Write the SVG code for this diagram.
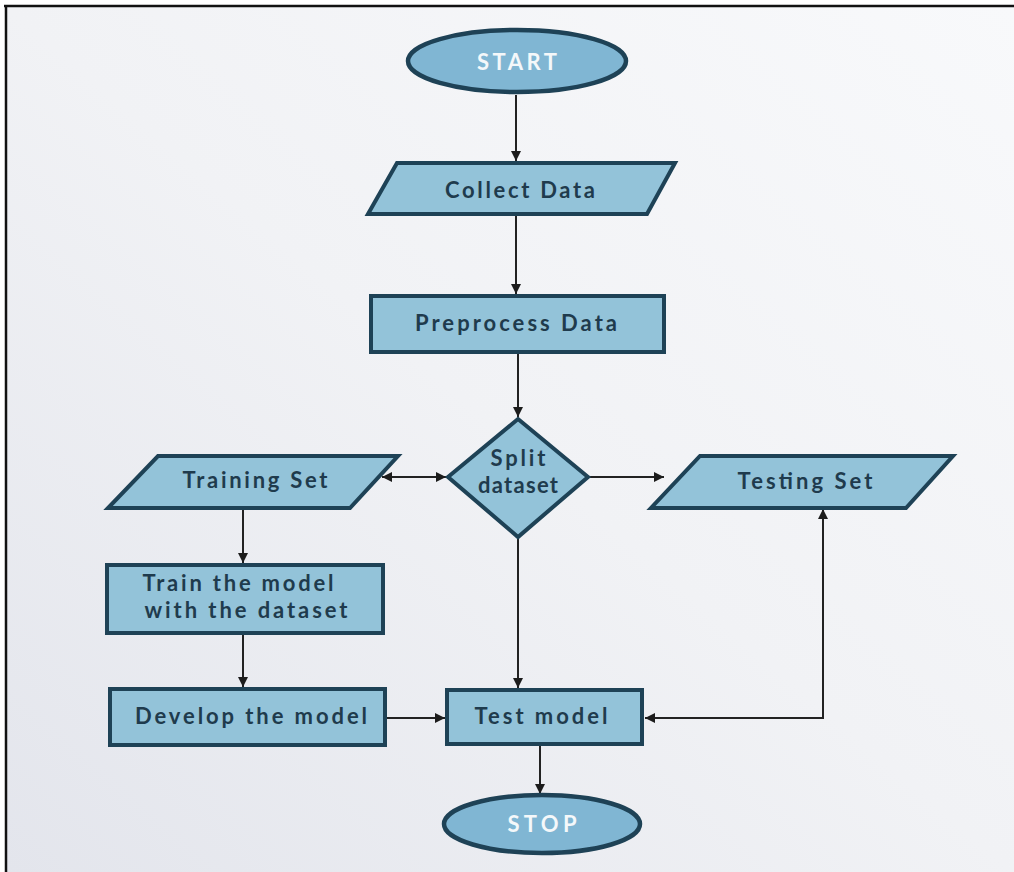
<svg xmlns="http://www.w3.org/2000/svg" width="1014" height="872" viewBox="0 0 1014 872">
  <defs>
    <linearGradient id="bg" x1="1" y1="0" x2="0" y2="1">
      <stop offset="0" stop-color="#f8f9fb"/>
      <stop offset="0.5" stop-color="#f1f2f5"/>
      <stop offset="1" stop-color="#e3e5ec"/>
    </linearGradient>
    <marker id="arrow" viewBox="0 0 10 10" refX="10" refY="5" markerWidth="10" markerHeight="10" markerUnits="userSpaceOnUse" orient="auto-start-reverse">
      <path d="M0,0 L10,5 L0,10 z" fill="#1c1c1c"/>
    </marker>
    <style>
      .box { fill: #93c3d9; stroke: #1e4256; stroke-width: 4; stroke-linejoin: miter; }
      .term { fill: #80b6d3; stroke: #1e4256; stroke-width: 4.5; }
      .lbl { font-family: Lato, "Open Sans", "Liberation Sans", sans-serif; font-weight: bold; font-size: 22px; fill: #1f3b4d; text-anchor: middle; }
      .tlbl { font-family: Lato, "Open Sans", "Liberation Sans", sans-serif; font-weight: bold; font-size: 22px; fill: #f4f8fa; text-anchor: middle; }
      .conn { fill: none; stroke: #222; stroke-width: 2; }
    </style>
  </defs>

  <!-- page background and frame -->
  <rect x="0" y="0" width="1014" height="872" fill="#ffffff"/>
  <rect x="7" y="7" width="1007" height="865" fill="url(#bg)"/>
  <line x1="4" y1="6" x2="1014" y2="6" stroke="#111" stroke-width="2.5"/>
  <line x1="6" y1="5" x2="6" y2="872" stroke="#111" stroke-width="2.5"/>

  <!-- connectors -->
  <g id="connectors">
    <line class="conn" x1="516" y1="95" x2="516" y2="161" marker-end="url(#arrow)"/>
    <line class="conn" x1="516" y1="216" x2="516" y2="294" marker-end="url(#arrow)"/>
    <line class="conn" x1="518" y1="354" x2="518" y2="417" marker-end="url(#arrow)"/>
    <line class="conn" x1="382" y1="477" x2="446" y2="477" marker-start="url(#arrow)" marker-end="url(#arrow)"/>
    <line class="conn" x1="590" y1="477" x2="664" y2="477" marker-end="url(#arrow)"/>
    <line class="conn" x1="243" y1="510" x2="243" y2="563" marker-end="url(#arrow)"/>
    <line class="conn" x1="243" y1="635" x2="243" y2="687" marker-end="url(#arrow)"/>
    <line class="conn" x1="387" y1="718" x2="445" y2="718" marker-end="url(#arrow)"/>
    <line class="conn" x1="518" y1="539" x2="518" y2="688" marker-end="url(#arrow)"/>
    <polyline class="conn" points="645,718 823,718 823,509" marker-start="url(#arrow)" marker-end="url(#arrow)"/>
    <line class="conn" x1="540" y1="746" x2="540" y2="794" marker-end="url(#arrow)"/>
  </g>

  <g id="start">
    <ellipse class="term" cx="517" cy="61" rx="109" ry="31"/>
    <text class="tlbl" x="517" y="70" textLength="80" lengthAdjust="spacing">START</text>
  </g>

  <g id="collect-data">
    <polygon class="box" points="397,163 675,163 647,214 368,214"/>
    <text class="lbl" x="520" y="198" textLength="150" lengthAdjust="spacing">Collect Data</text>
  </g>

  <g id="preprocess-data">
    <rect class="box" x="371" y="296" width="293" height="56"/>
    <text class="lbl" x="516" y="331" textLength="202" lengthAdjust="spacing">Preprocess Data</text>
  </g>

  <g id="split-dataset">
    <polygon class="box" points="518,419 588,477 518,537 448,477"/>
    <text class="lbl" x="518" y="466" textLength="55" lengthAdjust="spacing">Split</text>
    <text class="lbl" x="518" y="493" textLength="80" lengthAdjust="spacing">dataset</text>
  </g>

  <g id="training-set">
    <polygon class="box" points="158,456 398,456 350,508 108,508"/>
    <text class="lbl" x="255" y="488" textLength="145" lengthAdjust="spacing">Training Set</text>
  </g>

  <g id="testing-set">
    <polygon class="box" points="700,456 953,456 906,508 651,508"/>
    <text class="lbl" x="805" y="489" textLength="135" lengthAdjust="spacing">Testing Set</text>
  </g>

  <g id="train-model">
    <rect class="box" x="107" y="565" width="276" height="68"/>
    <text class="lbl" x="238" y="591" textLength="191" lengthAdjust="spacing">Train the model</text>
    <text class="lbl" x="246" y="618" textLength="203" lengthAdjust="spacing">with the dataset</text>
  </g>

  <g id="develop-model">
    <rect class="box" x="110" y="689" width="275" height="56"/>
    <text class="lbl" x="251" y="724" textLength="232" lengthAdjust="spacing">Develop the model</text>
  </g>

  <g id="test-model">
    <rect class="box" x="447" y="690" width="195" height="54"/>
    <text class="lbl" x="541" y="724" textLength="133" lengthAdjust="spacing">Test model</text>
  </g>

  <g id="stop">
    <ellipse class="term" cx="542" cy="824" rx="98" ry="29"/>
    <text class="tlbl" x="542" y="832" textLength="69" lengthAdjust="spacing">STOP</text>
  </g>
</svg>
